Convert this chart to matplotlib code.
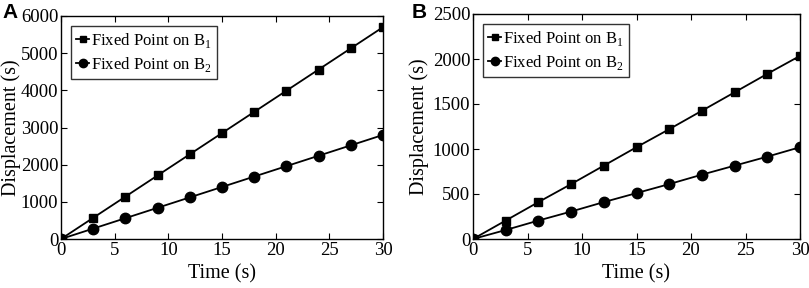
import matplotlib.pyplot as plt

# data
time = [0, 3, 6, 9, 12, 15, 18, 21, 24, 27, 30]
a_b1 = [0, 570, 1140, 1710, 2280, 2850, 3420, 3990, 4560, 5130, 5700]
a_b2 = [0, 280, 560, 840, 1120, 1400, 1680, 1960, 2240, 2520, 2800]
b_b1 = [0, 205, 410, 610, 815, 1020, 1220, 1425, 1630, 1835, 2035]
b_b2 = [0, 100, 205, 305, 410, 510, 610, 715, 815, 915, 1020]

plt.rcParams['font.family'] = ['Liberation Serif', 'DejaVu Serif']
plt.rcParams['mathtext.fontset'] = 'custom'
plt.rcParams['mathtext.rm'] = 'Liberation Serif'

fig = plt.figure(figsize=(8.09, 2.88), dpi=100)
W, H = 809, 288
ax1 = fig.add_axes([61 / W, 1 - 239 / H, 322 / W, 223 / H])
ax2 = fig.add_axes([473 / W, 1 - 239 / H, 327 / W, 225 / H])

panels = [
    (ax1, a_b1, a_b2, 6000, 1000, 'A', 2 / W, -0.155),
    (ax2, b_b1, b_b2, 2500, 500, 'B', 412 / W, -0.165),
]

for ax, s1, s2, ymax, ystep, tag, tx, ylx in panels:
    ax.plot(time, s1, color='black', marker='s', markersize=6, lw=1.3,
            label='Fixed Point on B$_1$')
    ax.plot(time, s2, color='black', marker='o', markersize=7.5, lw=1.3,
            label='Fixed Point on B$_2$')
    ax.set_xlim(0, 30)
    ax.set_ylim(0, ymax)
    ax.set_xticks(range(0, 31, 5))
    ax.set_yticks(range(0, ymax + 1, ystep))
    ax.tick_params(direction='in', top=True, right=True, labelsize=13.5,
                   length=4, width=0.8, pad=2)
    for sp in ax.spines.values():
        sp.set_linewidth(1.0)
    ax.set_xlabel('Time (s)', fontsize=14.5, labelpad=4)
    ax.set_ylabel('Displacement (s)', fontsize=14.5, va='center')
    ax.yaxis.set_label_coords(ylx, 0.5)
    leg = ax.legend(loc='upper left', fontsize=12, frameon=True, fancybox=False,
                    edgecolor='black', handlelength=0.8, handletextpad=0.1,
                    borderpad=0.3, labelspacing=0.3, borderaxespad=0.6,
                    markerscale=0.8)
    leg.get_frame().set_linewidth(1.0)
    fig.text(tx, 1 - 3 / H, tag, fontsize=15, fontweight='bold',
             family='Liberation Sans', ha='left', va='top')

fig.savefig('out.png', dpi=100)
